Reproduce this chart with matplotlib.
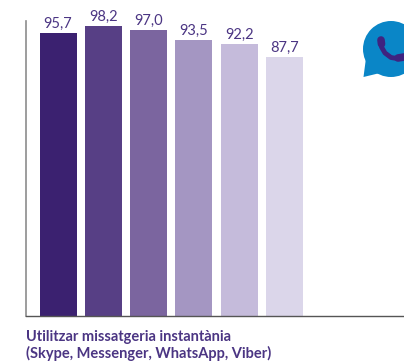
import matplotlib
matplotlib.use('Agg')
import matplotlib.pyplot as plt
from matplotlib.patches import Circle, Polygon

plt.rcParams['font.family'] = ['Lato', 'DejaVu Sans']

values = [95.7, 98.2, 97.0, 93.5, 92.2, 87.7]
value_labels = ['95,7', '98,2', '97,0', '93,5', '92,2', '87,7']
bar_colors = ['#3b2170', '#573f85', '#7b659f', '#a496c2', '#c5bbdb', '#dbd6ea']
caption = ['Utilitzar missatgeria instantània', '(Skype, Messenger, WhatsApp, Viber)']
text_color = '#4b3583'

W, H = 404, 364


def main():
    fig = plt.figure(figsize=(W / 100, H / 100), dpi=100)

    # axes placed by pixels, y runs 0..100 on 2.948 px per unit
    left, right, bottom, top = 25.5, 404, 315.5, 21
    ax = fig.add_axes([left / W, 1 - bottom / H, (right - left) / W, (bottom - top) / H])
    ax.set_xlim(left, right)
    ax.set_ylim(0, (bottom - top) / 2.948)

    xs = [58 + 45.3 * i for i in range(len(values))]
    ax.bar(xs, values, width=37, color=bar_colors)
    for x, v, lab in zip(xs, values, value_labels):
        ax.text(x, v + 0.7, lab, ha='center', va='bottom', fontsize=10.5, color=text_color,
                clip_on=False)

    ax.set_xticks([])
    ax.set_yticks([])
    ax.spines['top'].set_visible(False)
    ax.spines['right'].set_visible(False)
    ax.spines['left'].set_color('#8c8c8c')
    ax.spines['left'].set_linewidth(1.2)
    ax.spines['bottom'].set_color('#555555')
    ax.spines['bottom'].set_linewidth(1.0)

    fig.text(25.5 / W, 1 - 337 / H, caption[0], fontsize=10.5, fontweight='bold',
             color=text_color, va='center')
    fig.text(25.5 / W, 1 - 353 / H, caption[1], fontsize=10.5, fontweight='bold',
             color=text_color, va='center')

    # speech bubble icon, cut off by the right edge
    icon = fig.add_axes([0, 0, 1, 1])
    icon.set_xlim(0, W)
    icon.set_ylim(H, 0)
    icon.axis('off')
    icon.patch.set_alpha(0)
    blue = '#0a86c7'
    icon.add_patch(Circle((391, 49), 28, color=blue, lw=0))
    icon.add_patch(Polygon([(366, 58), (363.5, 77), (380, 73), (392, 76)], color=blue, lw=0))
    purple = '#3f2380'
    icon.plot([381, 381.5, 385, 391, 397, 404], [40, 47, 53, 57.5, 58.5, 57],
              color=purple, lw=3.5, solid_capstyle='round')
    # phone ends are thicker than the handle
    icon.plot([381, 381.5], [40, 44], color=purple, lw=5.5, solid_capstyle='round')
    icon.plot([398, 404], [58, 57], color=purple, lw=5.5, solid_capstyle='round')

    fig.savefig('out.png', dpi=100)


if __name__ == '__main__':
    main()
